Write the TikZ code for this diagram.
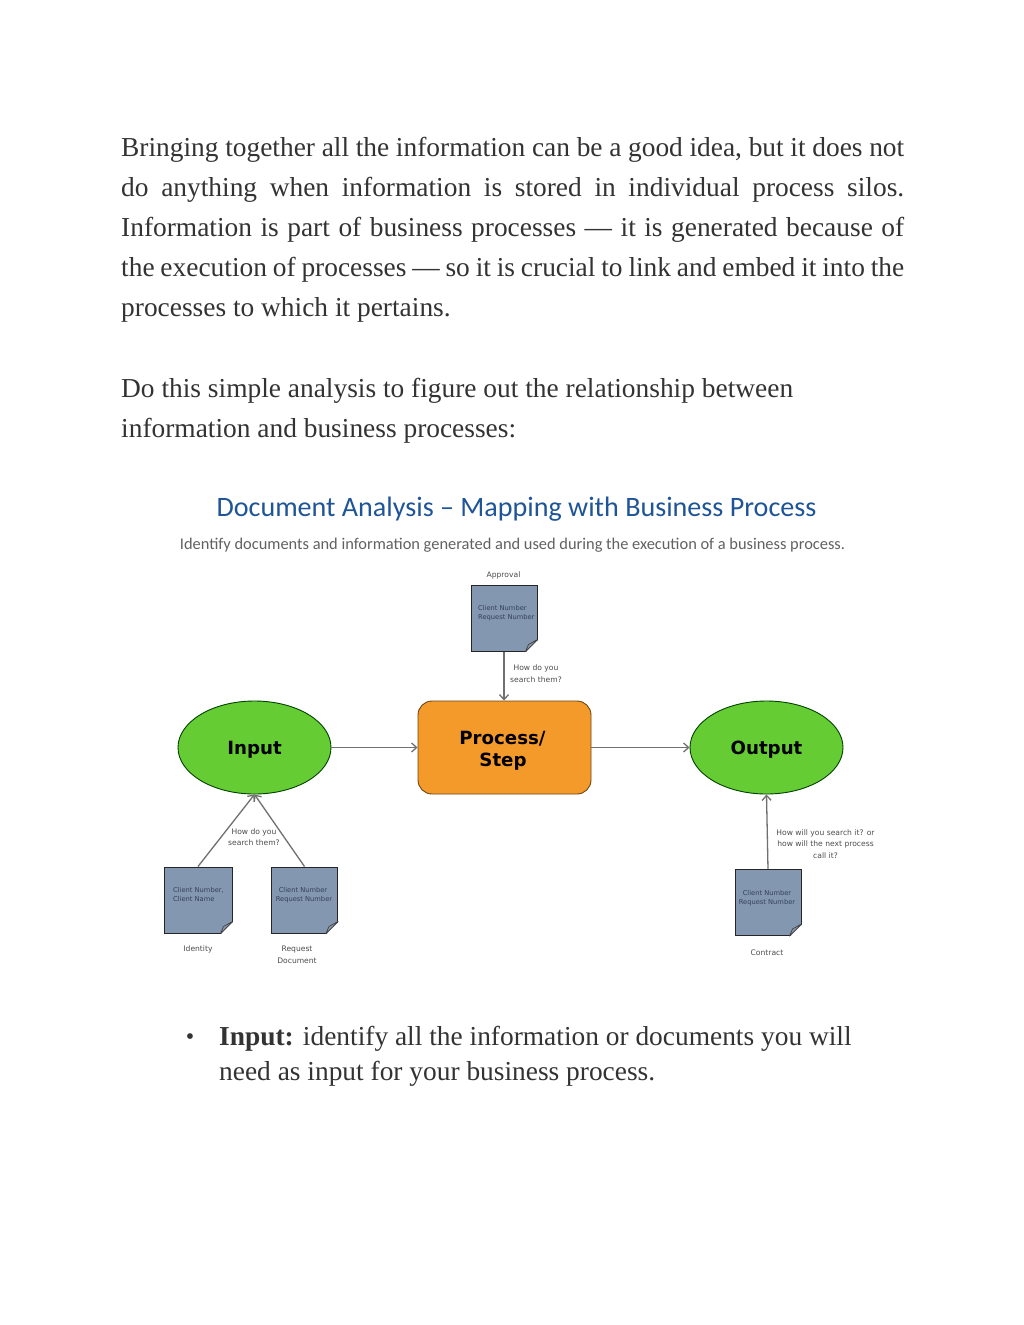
\documentclass[tikz,border=0pt]{standalone}
\usepackage{fontspec}
\setmainfont{Liberation Serif}
\newfontfamily\carl{Carlito}
\newfontfamily\dejav{DejaVu Sans}
\usetikzlibrary{arrows.meta,shapes.geometric}
\definecolor{docblue}{HTML}{8497B0}
\definecolor{docfold}{HTML}{8C98A8}
\definecolor{bubgreen}{HTML}{66CC33}
\definecolor{procorange}{HTML}{F39A2B}
\definecolor{headblue}{HTML}{1F5597}
\definecolor{bodyink}{HTML}{333333}
\definecolor{linkgray}{HTML}{707070}
\definecolor{docink}{HTML}{33415A}
\tikzset{
 bodyline/.style={anchor=base west,inner sep=0pt,text=bodyink,font=\fontsize{27.4}{27.4}\selectfont},
 bubble/.style={ellipse,draw=black!75!green,fill=bubgreen,line width=.9pt,minimum width=153pt,minimum height=93pt,inner sep=0pt,text height=13pt,text depth=0pt,font=\dejav\bfseries\fontsize{18.2}{21}\selectfont,align=center},
 procbox/.style={rectangle,rounded corners=14pt,draw=black!55!procorange,fill=procorange,line width=.9pt,minimum width=173pt,minimum height=93pt,inner sep=0pt,font=\dejav\bfseries\fontsize{18.2}{21.5}\selectfont,align=center},
 docbox/.style={rectangle,draw=black!85,fill=docblue,line width=1pt,minimum width=66pt,minimum height=66pt,inner sep=0pt},
 docnote/.style={inner sep=0pt,text=docink,font=\dejav\fontsize{6.7}{9.2}\selectfont},
 small/.style={inner sep=0pt,text=black!70,font=\dejav\fontsize{7.6}{11.5}\selectfont,align=center},
 link/.style={draw=linkgray,line width=1.3pt,-{Straight Barb[length=5pt,width=9pt]}},
}
\newcommand{\foldcorner}[1]{%
 \fill[white] ([xshift=-12pt,yshift=-1pt]#1.south east) -- ([xshift=1pt,yshift=-1pt]#1.south east) -- ([xshift=1pt,yshift=12pt]#1.south east) -- cycle;
 \draw[black!75,fill=docfold,line width=.7pt,line join=round] ([xshift=-12pt]#1.south east) -- ([xshift=-9pt,yshift=7pt]#1.south east) -- ([yshift=12pt]#1.south east) -- cycle;
}
\newcommand{\jline}[1]{\makebox[783pt][s]{#1}}
\begin{document}
\begin{tikzpicture}[x=1pt,y=-1pt]
\useasboundingbox (0,0) rectangle (1024,1325);
\fill[white] (0,0) rectangle (1024,1325);
\node[bodyline] (p1) at (121,156) {\jline{Bringing together all the information can be a good idea, but it does not}};
\node[bodyline] (p2) at (121,196) {\jline{do anything when information is stored in individual process silos.}};
\node[bodyline] (p3) at (121,236) {\jline{Information is part of business processes — it is generated because of}};
\node[bodyline] (p4) at (121,276) {\jline{the execution of processes — so it is crucial to link and embed it into the}};
\node[bodyline] (p5) at (121,316) {processes to which it pertains.};
\node[bodyline] (p6) at (121,397) {Do this simple analysis to figure out the relationship between};
\node[bodyline] (p7) at (121,437) {information and business processes:};

\node[inner sep=0pt,text=headblue,font=\carl\fontsize{28.1}{30}\selectfont] (title) at (516.5,509) {Document Analysis – Mapping with Business Process};
\node[inner sep=0pt,text=black!62,font=\carl\fontsize{16.4}{18}\selectfont] (sub) at (512.5,545.5) {Identify documents and information generated and used during the execution of a business process.};

\node[bubble] (input) at (254.5,747.5) {Input};
\node[procbox] (proc) at (504.5,747.5) {\rule{0pt}{19.5pt}Process/\hspace*{4pt}\\Step\hspace*{3pt}};
\node[bubble] (output) at (766.5,747.5) {Output};
\node[docbox] (appr) at (504,618) {};
\node[docbox,minimum width=68pt] (ident) at (198,900) {};
\node[docbox] (req) at (304.5,900) {};
\node[docbox] (contr) at (768,902.5) {};
\foldcorner{appr}\foldcorner{ident}\foldcorner{req}\foldcorner{contr}

\node[docnote,anchor=base west] (a1) at (478,610) {Client Number};
\node[docnote,anchor=base west] (a2) at (478,619.5) {Request Number};
\node[docnote,anchor=base west] (i1) at (173,892.5) {Client Number,};
\node[docnote,anchor=base west] (i2) at (173,901.5) {Client Name};
\node[docnote,anchor=base] (r1) at (303,892.5) {Client Number};
\node[docnote,anchor=base] (r2) at (304,901.5) {Request Number};
\node[docnote,anchor=base] (c1) at (767,895) {Client Number};
\node[docnote,anchor=base] (c2) at (767,904) {Request Number};

\draw[link] (appr.south) -- (appr.south |- proc.north);
\draw[link] (input.east) -- (proc.west);
\draw[link] (proc.east) -- (output.west);
\draw[link] (ident.north) -- (input.south);
\draw[link] (req.north) -- (input.south);
\draw[link] (contr.north) -- (output.south);

\node[small] (lappr) at (503.5,575.5) {Approval};
\node[small] (q1) at (536,673.5) {How do you\\search them?};
\node[small] (q2) at (254,837) {How do you\\search them?};
\node[small] (q3) at (825.5,844) {How will you search it? or\\how will the next process\\call it?};
\node[small] (lid) at (198,949.5) {Identity};
\node[small] (lreq) at (297,955) {Request\\Document};
\node[small] (lcon) at (767,952.5) {Contract};

\node[inner sep=0pt,text=bodyink,font=\fontsize{24}{24}\selectfont] (bul) at (190,1039) {•};
\node[bodyline] (b1) at (219,1045) {\textbf{Input:} identify all the information or documents you will};
\node[bodyline] (b2) at (219,1080) {need as input for your business process.};
\end{tikzpicture}
\end{document}
